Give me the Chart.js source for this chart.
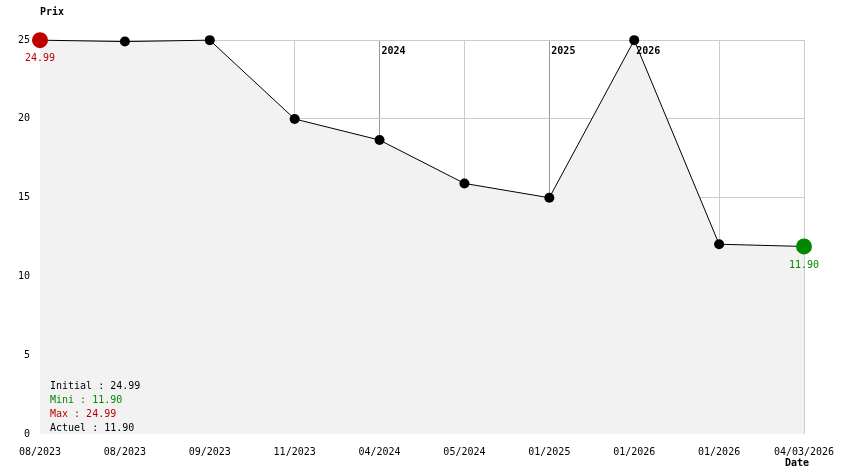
<!DOCTYPE html>
<html>
<head>
<meta charset="utf-8">
<script src="https://cdn.jsdelivr.net/npm/chart.js@4/dist/chart.umd.min.js"></script>
<style>
html,body{margin:0;padding:0;background:#fff;}
#wrap{width:844px;height:474px;position:relative;}
</style>
</head>
<body>
<div id="wrap"><canvas id="c" width="844" height="474"></canvas></div>
<script>
// ---- data ----
const dateLabels = ['08/2023','08/2023','09/2023','11/2023','04/2024','05/2024','01/2025','01/2026','01/2026','04/03/2026'];
const prices = [24.99, 24.90, 24.99, 19.99, 18.65, 15.90, 14.99, 24.99, 12.04, 11.90];
const yearMarkIndex = [4, 6, 7];
const yearMarkLabel = ['2024', '2025', '2026'];
const yTicks = [0, 5, 10, 15, 20, 25];
const summaryLabels = ['Initial', 'Mini', 'Max', 'Actuel'];
const summaryValues = [24.99, 11.90, 24.99, 11.90];
const summaryColors = ['#000000', '#008800', '#bb0000', '#000000'];
const axisTitleY = 'Prix';
const axisTitleX = 'Date';

const MONO = '"DejaVu Sans Mono", "Liberation Mono", monospace';
const lastIdx = prices.length - 1;

const overlay = {
  id: 'overlay',
  afterDatasetsDraw(chart) {
    const ctx = chart.ctx;
    const xs = chart.scales.x, ys = chart.scales.y;
    const ca = chart.chartArea;
    ctx.save();
    ctx.font = 'bold 10px ' + MONO;
    ctx.fillStyle = '#000';
    ctx.textAlign = 'left';
    ctx.textBaseline = 'middle';
    yearMarkIndex.forEach((idx, i) => {
      ctx.fillText(yearMarkLabel[i], xs.getPixelForValue(idx) + 2, ca.top + 11);
    });
    ctx.font = '10px ' + MONO;
    ctx.textAlign = 'center';
    ctx.fillStyle = '#bb0000';
    ctx.fillText(prices[0].toFixed(2), xs.getPixelForValue(0), ys.getPixelForValue(prices[0]) + 18);
    ctx.fillStyle = '#008800';
    ctx.fillText(prices[lastIdx].toFixed(2), xs.getPixelForValue(lastIdx), ys.getPixelForValue(prices[lastIdx]) + 19);
    ctx.textAlign = 'left';
    summaryLabels.forEach((lab, i) => {
      ctx.fillStyle = summaryColors[i];
      ctx.fillText(lab + ' : ' + summaryValues[i].toFixed(2), ca.left + 10, ca.bottom - 48 + i * 14);
    });
    ctx.font = 'bold 10px ' + MONO;
    ctx.fillStyle = '#000';
    ctx.textAlign = 'left';
    ctx.fillText(axisTitleY, ca.left, ca.top - 28);
    ctx.textAlign = 'center';
    ctx.fillText(axisTitleX, xs.getPixelForValue(lastIdx) - 7, ca.bottom + 29);
    ctx.restore();
  }
};

new Chart(document.getElementById('c'), {
  type: 'line',
  data: {
    labels: dateLabels,
    datasets: [{
      data: prices,
      clip: false,
      borderColor: '#000',
      borderWidth: 1,
      backgroundColor: '#f2f2f2',
      fill: 'origin',
      tension: 0,
      pointRadius: prices.map((v, i) => (i === 0 || i === lastIdx) ? 8 : 5),
      pointBackgroundColor: prices.map((v, i) => i === 0 ? '#bb0000' : (i === lastIdx ? '#008800' : '#000')),
      pointBorderColor: prices.map((v, i) => i === 0 ? '#bb0000' : (i === lastIdx ? '#008800' : '#000')),
      pointBorderWidth: 0
    }]
  },
  options: {
    responsive: false,
    animation: false,
    events: [],
    layout: { padding: { top: 40, right: 40, left: 0, bottom: 0 } },
    plugins: { legend: { display: false }, tooltip: { enabled: false } },
    scales: {
      x: {
        type: 'category',
        offset: false,
        border: { display: false },
        grid: {
          drawTicks: false,
          color: (c) => c.index === 0 ? 'rgba(0,0,0,0)' : (yearMarkIndex.includes(c.index) ? '#999999' : '#cccccc'),
          lineWidth: 1
        },
        ticks: {
          autoSkip: false,
          maxRotation: 0,
          padding: 12,
          color: '#000',
          font: { family: MONO, size: 10 }
        },
        afterFit(s) { s.height = 40; s.paddingLeft = 0; s.paddingRight = 0; }
      },
      y: {
        min: 0,
        max: 25,
        border: { display: false },
        grid: {
          drawTicks: false,
          color: (c) => c.tick && c.tick.value === 0 ? 'rgba(0,0,0,0)' : '#cccccc',
          lineWidth: 1
        },
        afterBuildTicks(s) { s.ticks = yTicks.map(v => ({ value: v })); },
        ticks: {
          padding: 10,
          color: '#000',
          font: { family: MONO, size: 10 }
        },
        afterFit(s) { s.width = 40; s.paddingTop = 0; s.paddingBottom = 0; }
      }
    }
  },
  plugins: [overlay]
});
</script>
</body>
</html>
